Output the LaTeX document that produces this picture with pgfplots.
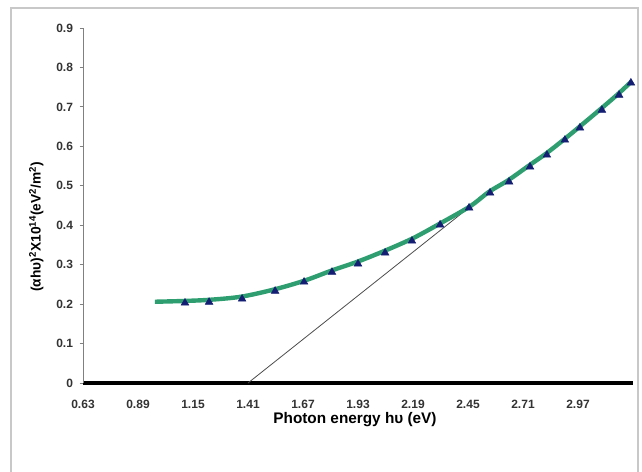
\documentclass[border=0pt]{standalone}
\usepackage{pgfplots}
\pgfplotsset{compat=1.18}
\usepackage{fontspec}
\setmainfont{Liberation Sans}
\definecolor{trendgreen}{RGB}{46,158,112}
\definecolor{marknavy}{RGB}{20,30,115}
\definecolor{framegray}{RGB}{200,200,200}

\begin{document}
\begin{tikzpicture}[x=1pt,y=1pt]
\useasboundingbox (-62.25,-66) rectangle (419.25,287.25);
\draw[framegray, line width=1.3pt] (-54,-80) -- (-54,281.25) -- (416.25,281.25) -- (416.25,-80);
\begin{axis}[
    at={(0,0)}, anchor=south west,
    width=412.5pt, height=266.25pt, scale only axis,
    xmin=0.63, xmax=3.23, ymin=0, ymax=0.9,
    axis lines=left,
    axis line style={-},
    x axis line style={line width=3pt, black},
    y axis line style={line width=0.6pt, gray},
    xtick={0.63,0.89,1.15,1.41,1.67,1.93,2.19,2.45,2.71,2.97},
    xticklabels={0.63,0.89,1.15,1.41,1.67,1.93,2.19,2.45,2.71,2.97},
    ytick={0,0.1,0.2,0.3,0.4,0.5,0.6,0.7,0.8,0.9},
    yticklabels={0,0.1,0.2,0.3,0.4,0.5,0.6,0.7,0.8,0.9},
    x tick style={draw=none},
    y tick style={gray, line width=0.6pt},
    tick align=outside,
    major tick length=2.5pt,
    ticklabel style={font=\bfseries\fontsize{9}{10}\selectfont, text=black!80},
    xticklabel style={anchor=center, yshift=-13.5pt},
    yticklabel style={anchor=east, xshift=-1.5pt},
    xlabel={Photon energy hυ (eV)},
    ylabel={(αhυ)\textsuperscript{2}X10\textsuperscript{14}(eV\textsuperscript{2}/m\textsuperscript{2})},
    xlabel style={font=\bfseries\fontsize{11.5}{13}\selectfont,
        at={(axis description cs:0.4945,-0.104)}, anchor=center},
    ylabel style={font=\bfseries\fontsize{10.3}{12}\selectfont,
        at={(axis description cs:-0.085,0.44)}, anchor=center},
    clip=false,
]
% measured points (triangles)
\addplot[only marks, mark=triangle*, mark size=3.3pt, mark options={fill=marknavy, draw=marknavy}] coordinates {
(1.112,0.203) (1.226,0.205) (1.382,0.213) (1.538,0.233) (1.675,0.256)
(1.807,0.281) (1.930,0.302) (2.058,0.330) (2.185,0.360) (2.318,0.401)
(2.455,0.444) (2.554,0.482) (2.644,0.510) (2.743,0.548) (2.823,0.578)
(2.908,0.616) (2.979,0.647) (3.083,0.692) (3.164,0.730) (3.220,0.761)
};
% tangent line
\addplot[black!70, line width=0.6pt] coordinates {(1.41,0) (2.46,0.447)};
% trend curve
\addplot[trendgreen, line width=3.3pt, smooth] coordinates {
(0.97,0.206) (1.11,0.208) (1.23,0.211) (1.38,0.219) (1.54,0.238) (1.68,0.260)
(1.81,0.286) (1.93,0.308) (2.06,0.336) (2.19,0.367) (2.32,0.405) (2.46,0.448)
(2.55,0.485) (2.64,0.514) (2.74,0.552) (2.82,0.582) (2.91,0.620) (2.98,0.651)
(3.08,0.696) (3.16,0.733) (3.22,0.763)
};
\end{axis}
\end{tikzpicture}
\end{document}
